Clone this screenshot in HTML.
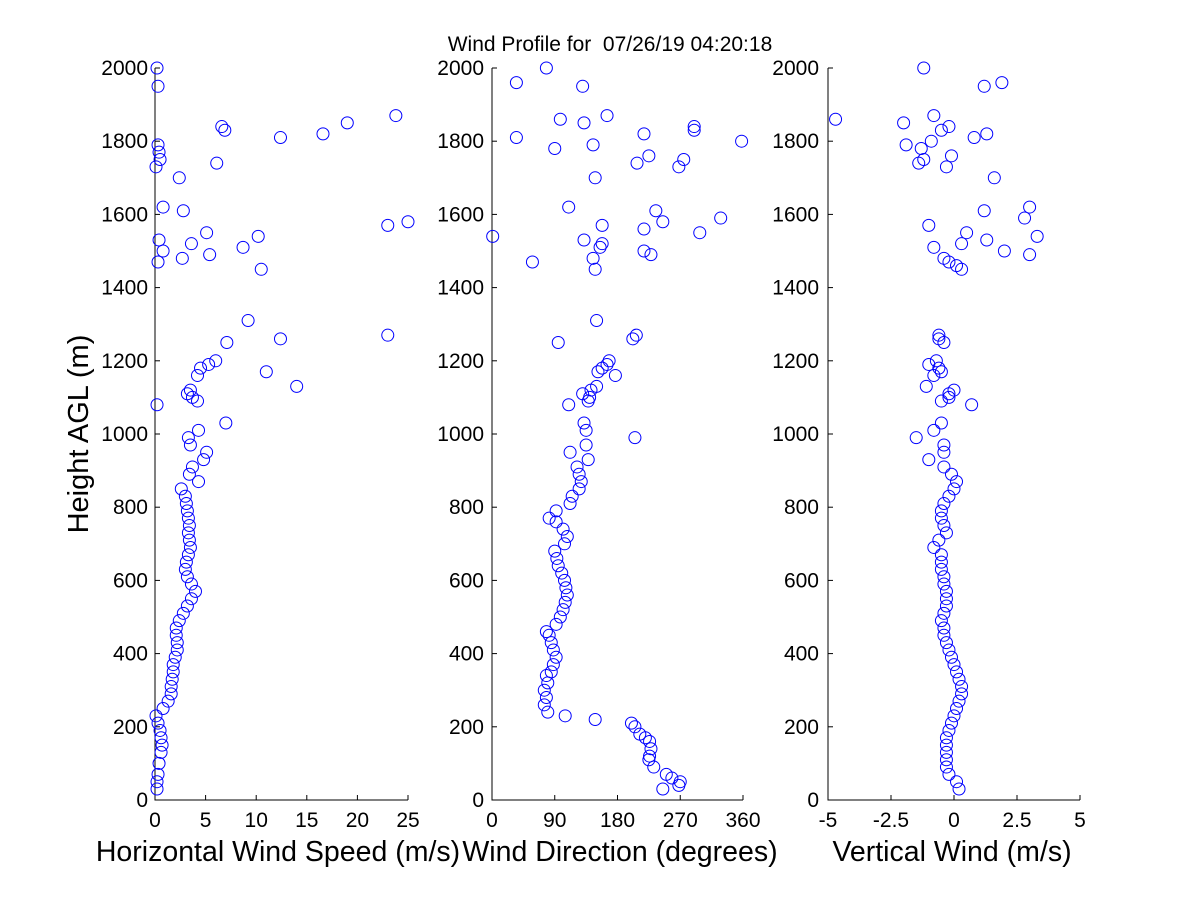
<!DOCTYPE html>
<html><head><meta charset="utf-8"><style>
body{margin:0;background:#fff;}
svg{display:block;font-family:"Liberation Sans",sans-serif;}
</style></head><body>
<svg id="chart" width="1200" height="900">
<rect width="1200" height="900" fill="#fff"/>
<text x="610" y="51" font-size="21" text-anchor="middle" xml:space="preserve">Wind Profile for  07/26/19 04:20:18</text>
<text transform="translate(88,434) rotate(-90)" font-size="29" text-anchor="middle">Height AGL (m)</text>
</svg>
<script>
const heightTicks=[0,200,400,600,800,1000,1200,1400,1600,1800,2000];
const speedTicks=[0,5,10,15,20,25];
const dirTicks=[0,90,180,270,360];
const vertTicks=[-5,-2.5,0,2.5,5];
const speedH=[30,50,70,100,130,150,170,190,210,230,250,270,290,310,330,350,370,390,410,430,450,470,490,510,530,550,570,590,610,630,650,670,690,710,730,750,770,790,810,830,850,870,890,910,930,950,970,990,1010,1030,1080,1090,1100,1110,1120,1130,1160,1170,1180,1190,1200,1250,1260,1270,1310,1450,1470,1480,1490,1500,1510,1520,1530,1540,1550,1570,1580,1610,1620,1700,1730,1740,1750,1770,1790,1810,1820,1830,1840,1850,1870,1950,2000];
const speedV=[0.2,0.2,0.3,0.4,0.6,0.7,0.6,0.5,0.3,0.1,0.8,1.3,1.6,1.6,1.7,1.8,1.8,2.0,2.2,2.2,2.1,2.1,2.4,2.8,3.2,3.6,4.0,3.6,3.2,3.0,3.1,3.3,3.5,3.4,3.3,3.4,3.3,3.2,3.1,3.0,2.6,4.3,3.4,3.7,4.8,5.1,3.5,3.3,4.3,7.0,0.2,4.2,3.7,3.2,3.5,14.0,4.2,11.0,4.5,5.3,6.0,7.1,12.4,23.0,9.2,10.5,0.3,2.7,5.4,0.8,8.7,3.6,0.4,10.2,5.1,23.0,25.0,2.8,0.8,2.4,0.1,6.1,0.5,0.4,0.3,12.4,16.6,6.9,6.6,19.0,23.8,0.3,0.2];
const dirH=[30,40,50,60,70,90,110,120,140,160,170,180,200,210,220,230,240,260,280,300,320,340,350,370,390,410,430,450,460,480,500,520,540,560,580,600,620,640,660,680,700,720,740,760,770,790,810,830,850,870,890,910,930,950,970,990,1010,1030,1080,1090,1100,1110,1120,1130,1160,1170,1180,1190,1200,1250,1260,1270,1310,1450,1470,1480,1490,1500,1510,1520,1530,1540,1550,1560,1570,1580,1590,1610,1620,1700,1730,1740,1750,1760,1780,1790,1800,1810,1820,1830,1840,1850,1860,1870,1950,1960,2000];
const dirV=[245,268,270,258,250,232,225,226,228,226,220,212,205,200,148,105,80,75,78,75,80,78,85,88,92,88,85,82,78,92,98,102,105,108,106,104,100,95,93,90,104,108,102,92,82,92,112,115,125,128,125,122,138,112,135,205,135,132,110,138,140,130,142,150,177,152,158,165,168,95,202,207,150,148,58,145,228,218,155,158,132,1,298,218,158,245,328,235,110,148,268,208,275,225,90,145,358,35,218,290,290,132,98,165,130,35,78];
const vertH=[30,50,70,90,110,130,150,170,190,210,230,250,270,290,310,330,350,370,390,410,430,450,470,490,510,530,550,570,590,610,630,650,670,690,710,730,750,770,790,810,830,850,870,890,910,930,950,970,990,1010,1030,1080,1090,1100,1110,1120,1130,1160,1170,1180,1190,1200,1250,1260,1270,1450,1460,1470,1480,1490,1500,1510,1520,1530,1540,1550,1570,1590,1610,1620,1700,1730,1740,1750,1760,1780,1790,1800,1810,1820,1830,1840,1850,1860,1870,1950,1960,2000];
const vertV=[0.2,0.1,-0.2,-0.3,-0.3,-0.3,-0.3,-0.3,-0.2,-0.1,0.0,0.1,0.2,0.3,0.3,0.2,0.1,0.0,-0.1,-0.2,-0.3,-0.4,-0.4,-0.5,-0.4,-0.3,-0.3,-0.3,-0.4,-0.4,-0.5,-0.5,-0.5,-0.8,-0.6,-0.3,-0.4,-0.5,-0.5,-0.4,-0.2,0.0,0.1,-0.1,-0.4,-1.0,-0.4,-0.4,-1.5,-0.8,-0.5,0.7,-0.5,-0.2,-0.2,0,-1.1,-0.8,-0.5,-0.6,-1.0,-0.7,-0.4,-0.6,-0.6,0.3,0.1,-0.2,-0.4,3.0,2.0,-0.8,0.3,1.3,3.3,0.5,-1.0,2.8,1.2,3.0,1.6,-0.3,-1.4,-1.2,-0.1,-1.3,-1.9,-0.9,0.8,1.3,-0.5,-0.2,-2.0,-4.7,-0.8,1.2,1.9,-1.2];

const NS='http://www.w3.org/2000/svg';
const svg=document.getElementById('chart');
function mk(tag,attrs,parent){const e=document.createElementNS(NS,tag);for(const k in attrs)e.setAttribute(k,attrs[k]);(parent||svg).appendChild(e);return e;}
const Y0=800,Y1=68;
function yScale(h){return Y0-(h/2000)*(Y0-Y1);}
const panels=[
 {name:'speed',x0:155,x1:408,min:0,max:25,ticks:speedTicks,lab:'Horizontal Wind Speed (m/s)',labX:278,H:speedH,V:speedV,yl:148},
 {name:'direction',x0:492,x1:743,min:0,max:360,ticks:dirTicks,lab:'Wind Direction (degrees)',labX:620,H:dirH,V:dirV,yl:484},
 {name:'vertical',x0:828,x1:1080,min:-5,max:5,ticks:vertTicks,lab:'Vertical Wind (m/s)',labX:952,H:vertH,V:vertV,yl:819}
];
panels.forEach(p=>{
 const g=mk('g',{});
 
 
 const xs=v=>p.x0+(v-p.min)/(p.max-p.min)*(p.x1-p.x0);
 const ax=mk('path',{d:`M${p.x0},${Y1}V${Y0}H${p.x1}`,stroke:'#000',fill:'none','stroke-width':1},g);
 
 
 heightTicks.forEach(t=>{
  const y=yScale(t);
  mk('line',{x1:p.x0,x2:p.x0+5,y1:y,y2:y,stroke:'#000'},g);
  const tx=mk('text',{x:p.yl,y:y+7,'font-size':21,'text-anchor':'end'},g);
  tx.textContent=t;
  
  
 });
 p.ticks.forEach(t=>{
  const x=xs(t);
  mk('line',{x1:x,x2:x,y1:Y0,y2:Y0-5,stroke:'#000'},g);
  const tx=mk('text',{x:x,y:Y0+27,'font-size':21,'text-anchor':'middle'},g);
  tx.textContent=t;
  
  
 });
 const lb=mk('text',{x:p.labX,y:861,'font-size':28.5,'text-anchor':'middle'},g);
 lb.textContent=p.lab;
 
 
 p.H.forEach((h,i)=>{
  const c=mk('circle',{cx:xs(p.V[i]),cy:yScale(h),r:6,fill:'none',stroke:'#0000ff','stroke-width':1},g);
  
  
 });
});
</script>
</body></html>
